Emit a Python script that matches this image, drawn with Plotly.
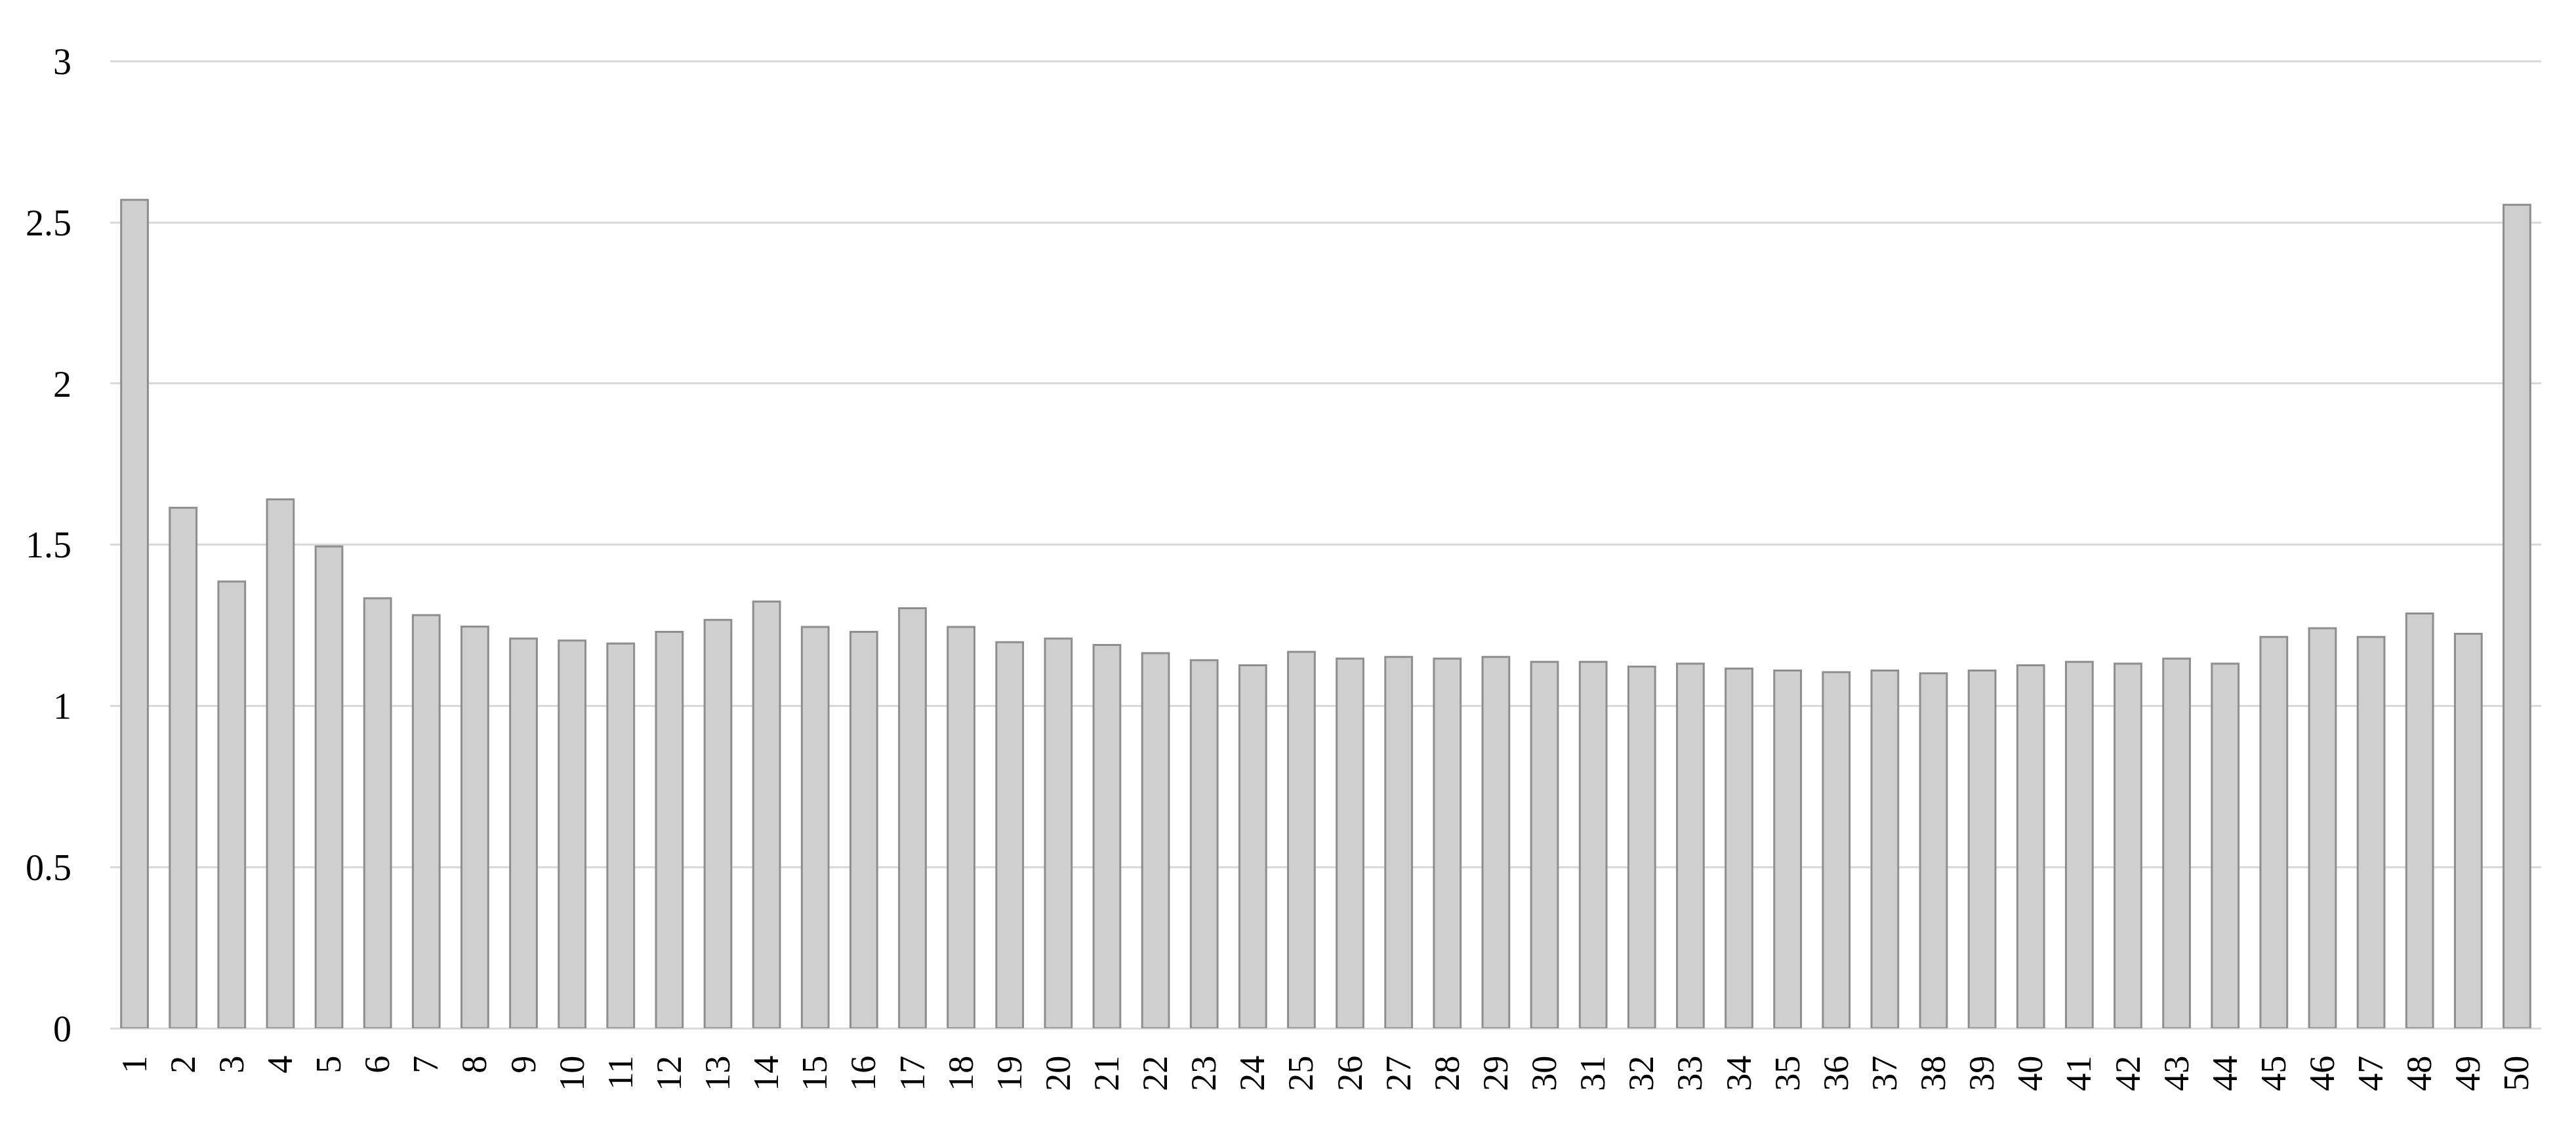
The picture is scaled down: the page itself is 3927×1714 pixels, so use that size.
import plotly.graph_objects as go

# bar categories and values
categories = [str(i) for i in range(1, 51)]
values = [
    2.57, 1.615, 1.386, 1.641, 1.495, 1.334, 1.282, 1.246, 1.209, 1.203,
    1.194, 1.230, 1.267, 1.324, 1.245, 1.230, 1.303, 1.245, 1.198, 1.209,
    1.189, 1.164, 1.142, 1.126, 1.168, 1.147, 1.152, 1.147, 1.152, 1.137,
    1.137, 1.122, 1.131, 1.116, 1.110, 1.105, 1.110, 1.101, 1.110, 1.126,
    1.137, 1.131, 1.147, 1.131, 1.214, 1.241, 1.214, 1.287, 1.224, 2.555,
]
y_ticks = [0, 0.5, 1, 1.5, 2, 2.5, 3]
y_ticktext = ["0", "0.5", "1", "1.5", "2", "2.5", "3"]

serif = "'Palatino Linotype', 'Book Antiqua', Palatino, 'Liberation Serif', serif"

fig = go.Figure()
fig.add_trace(go.Bar(
    x=categories,
    y=values,
    marker_color="#cfcfcf",
    marker_line_color="#8e8e8e",
    marker_line_width=3,
))

# page body has an 8px margin, so the figure is a bit smaller than the window
fig.update_layout(
    width=3911,
    height=1698,
    margin=dict(l=160, r=45, t=84, b=138),
    paper_bgcolor="white",
    plot_bgcolor="white",
    bargap=0.45,
    showlegend=False,
    font=dict(family=serif, size=56, color="#000000"),
)
fig.update_xaxes(
    type="category",
    tickangle=-90,
    showgrid=False,
    showline=False,
    ticks="",
    ticklabelstandoff=30,
    tickfont=dict(family=serif, size=54, color="#000000"),
)
fig.update_yaxes(
    range=[0, 3.003],
    tickvals=y_ticks,
    ticktext=y_ticktext,
    showgrid=True,
    gridcolor="#d9d9d9",
    gridwidth=3,
    zeroline=True,
    zerolinecolor="#d9d9d9",
    zerolinewidth=3,
    showline=False,
    ticks="",
    ticklabelstandoff=58,
    tickfont=dict(family=serif, size=56, color="#000000"),
)

fig.write_html("out.html")
